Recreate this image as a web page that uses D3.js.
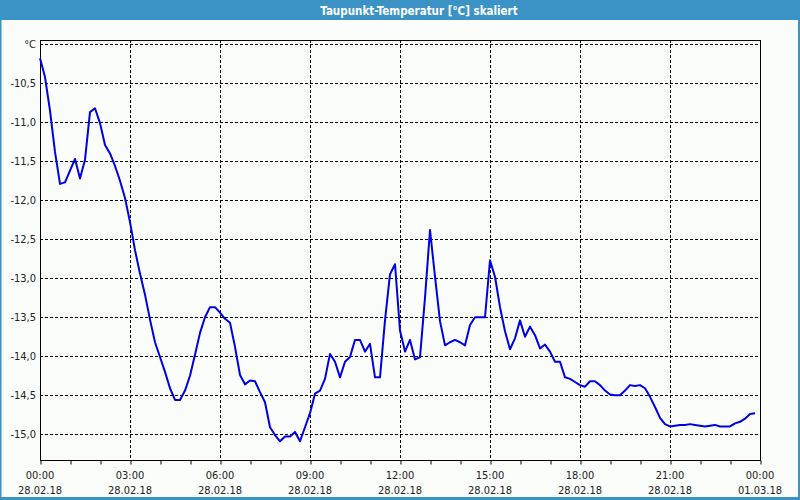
<!DOCTYPE html>
<html>
<head>
<meta charset="utf-8">
<script src="https://cdn.jsdelivr.net/npm/d3@7"></script>
<style>
  html, body { margin: 0; padding: 0; background: #fbfdfb; }
  svg { display: block; }
</style>
</head>
<body>
<script>
// ---- data ----
const chartTitle = "Taupunkt-Temperatur [°C] skaliert";
const startTime = new Date(2018, 1, 28, 0, 0);
const endTime = new Date(2018, 2, 1, 0, 0);
const sampleMinutes = 10;
// dew point values, one per 10 minutes from 28.02.18 00:00
const values = [
  -10.18, -10.42, -10.85, -11.38, -11.79, -11.77, -11.62, -11.47, -11.72, -11.48,
  -10.87, -10.82, -11.01, -11.29, -11.40, -11.56, -11.75, -11.97, -12.28, -12.64,
  -12.94, -13.21, -13.53, -13.82, -14.01, -14.20, -14.41, -14.56, -14.56, -14.44,
  -14.25, -13.98, -13.70, -13.50, -13.37, -13.37, -13.44, -13.52, -13.57, -13.88,
  -14.24, -14.36, -14.31, -14.32, -14.46, -14.59, -14.91, -15.01, -15.09, -15.03,
  -15.03, -14.97, -15.09, -14.91, -14.73, -14.48, -14.44, -14.29, -13.97, -14.07,
  -14.27, -14.07, -14.01, -13.79, -13.79, -13.94, -13.84, -14.27, -14.27, -13.54,
  -12.95, -12.82, -13.67, -13.94, -13.79, -14.04, -14.01, -13.25, -12.38, -12.98,
  -13.55, -13.86, -13.82, -13.79, -13.82, -13.86, -13.60, -13.50, -13.50, -13.50,
  -12.77, -12.98, -13.37, -13.68, -13.91, -13.77, -13.54, -13.75, -13.62, -13.73,
  -13.90, -13.85, -13.94, -14.07, -14.07, -14.27, -14.29, -14.33, -14.37, -14.39,
  -14.32, -14.32, -14.37, -14.44, -14.49, -14.50, -14.50, -14.44, -14.37, -14.38,
  -14.37, -14.41, -14.52, -14.65, -14.79, -14.87, -14.90, -14.89, -14.88, -14.88,
  -14.87, -14.88, -14.89, -14.90, -14.89, -14.88, -14.90, -14.90, -14.90, -14.86,
  -14.84, -14.80, -14.74, -14.73
];
const yTicks = [-15.0, -14.5, -14.0, -13.5, -13.0, -12.5, -12.0, -11.5, -11.0, -10.5, -10.0];
const yTickLabels = ["-15,0", "-14,5", "-14,0", "-13,5", "-13,0", "-12,5", "-12,0", "-11,5", "-11,0", "-10,5", "°C"];
const xTimeLabels = ["00:00", "03:00", "06:00", "09:00", "12:00", "15:00", "18:00", "21:00", "00:00"];
const xDateLabels = ["28.02.18", "28.02.18", "28.02.18", "28.02.18", "28.02.18", "28.02.18", "28.02.18", "28.02.18", "01.03.18"];
const yDomain = [-15.33, -9.945];

// ---- layout ----
const W = 800, H = 500;
const plot = { left: 40, right: 760, top: 40, bottom: 460 };
const frameColor = "#3b92c5";
const labelFont = "'DejaVu Sans Condensed', 'DejaVu Sans', sans-serif";

const svg = d3.select("body").append("svg")
  .attr("width", W).attr("height", H);

svg.append("rect").attr("x", 0).attr("y", 0).attr("width", W).attr("height", H)
  .attr("fill", "#fbfdfb");

// frame border
svg.append("rect").attr("x", 0.5).attr("y", 0.5).attr("width", W - 1).attr("height", H - 1.5)
  .attr("fill", "none").attr("stroke", frameColor).attr("stroke-width", 2);
svg.append("rect").attr("x", 0).attr("y", 497).attr("width", W).attr("height", 3).attr("fill", frameColor);
svg.append("rect").attr("x", 798).attr("y", 0).attr("width", 2).attr("height", H).attr("fill", frameColor);

// title bar
svg.append("rect").attr("x", 0).attr("y", 0).attr("width", W).attr("height", 20).attr("fill", frameColor);
svg.append("text").attr("x", 419).attr("y", 14.5)
  .attr("text-anchor", "middle")
  .attr("fill", "#ffffff")
  .attr("font-family", labelFont)
  .attr("font-weight", "bold")
  .attr("font-size", "11.5px")
  .text(chartTitle);

// scales
const x = d3.scaleTime().domain([startTime, endTime]).range([plot.left, plot.right]);
const y = d3.scaleLinear().domain(yDomain).range([plot.bottom, plot.top]);

const data = values.map((v, i) => ({ t: d3.timeMinute.offset(startTime, i * sampleMinutes), v }));
const majorTimes = xTimeLabels.map((_, i) => d3.timeHour.offset(startTime, i * 3));
const hourTicks = d3.timeHour.range(startTime, d3.timeHour.offset(endTime, 1));

// grid - horizontal
svg.append("g").selectAll("line").data(yTicks).join("line")
  .attr("x1", plot.left).attr("x2", plot.right)
  .attr("y1", d => Math.round(y(d)) + 0.5).attr("y2", d => Math.round(y(d)) + 0.5)
  .attr("stroke", "#000").attr("stroke-width", 1).attr("stroke-dasharray", "3,2");

// grid - vertical
svg.append("g").selectAll("line").data(majorTimes.slice(1, -1)).join("line")
  .attr("x1", d => Math.round(x(d)) + 0.5).attr("x2", d => Math.round(x(d)) + 0.5)
  .attr("y1", plot.top).attr("y2", plot.bottom)
  .attr("stroke", "#000").attr("stroke-width", 1).attr("stroke-dasharray", "3,2");

// plot border
svg.append("rect").attr("x", plot.left + 0.5).attr("y", plot.top + 0.5)
  .attr("width", plot.right - plot.left).attr("height", plot.bottom - plot.top)
  .attr("fill", "none").attr("stroke", "#000").attr("stroke-width", 1);

// x axis (hour ticks)
const xAxis = d3.axisBottom(x).tickValues(hourTicks).tickSize(4).tickFormat("");
const gx = svg.append("g").attr("transform", `translate(0.5,${plot.bottom + 0.5})`).call(xAxis);
gx.select(".domain").remove();
gx.selectAll(".tick line").attr("stroke", "#000");

// x labels
const xl = svg.append("g").attr("font-family", labelFont).attr("font-size", "11px").attr("fill", "#222");
xl.selectAll("text.time").data(majorTimes).join("text").attr("class", "time")
  .attr("x", d => x(d)).attr("y", 479).attr("text-anchor", "middle")
  .text((d, i) => xTimeLabels[i]);
xl.selectAll("text.date").data(majorTimes).join("text").attr("class", "date")
  .attr("x", d => x(d)).attr("y", 494).attr("text-anchor", "middle")
  .text((d, i) => xDateLabels[i]);

// y labels
const yAxis = d3.axisLeft(y).tickValues(yTicks).tickSize(0).tickPadding(4)
  .tickFormat((d, i) => yTickLabels[i]);
const gy = svg.append("g").attr("transform", `translate(${plot.left},0)`).call(yAxis);
gy.select(".domain").remove();
gy.selectAll(".tick text").attr("font-family", labelFont).attr("font-size", "11px").attr("fill", "#222");

// line
const line = d3.line().x(d => x(d.t)).y(d => y(d.v));
svg.append("path").datum(data)
  .attr("d", line)
  .attr("fill", "none")
  .attr("stroke", "#0000e0")
  .attr("stroke-width", 2)
  .attr("stroke-linejoin", "round");
</script>
</body>
</html>
